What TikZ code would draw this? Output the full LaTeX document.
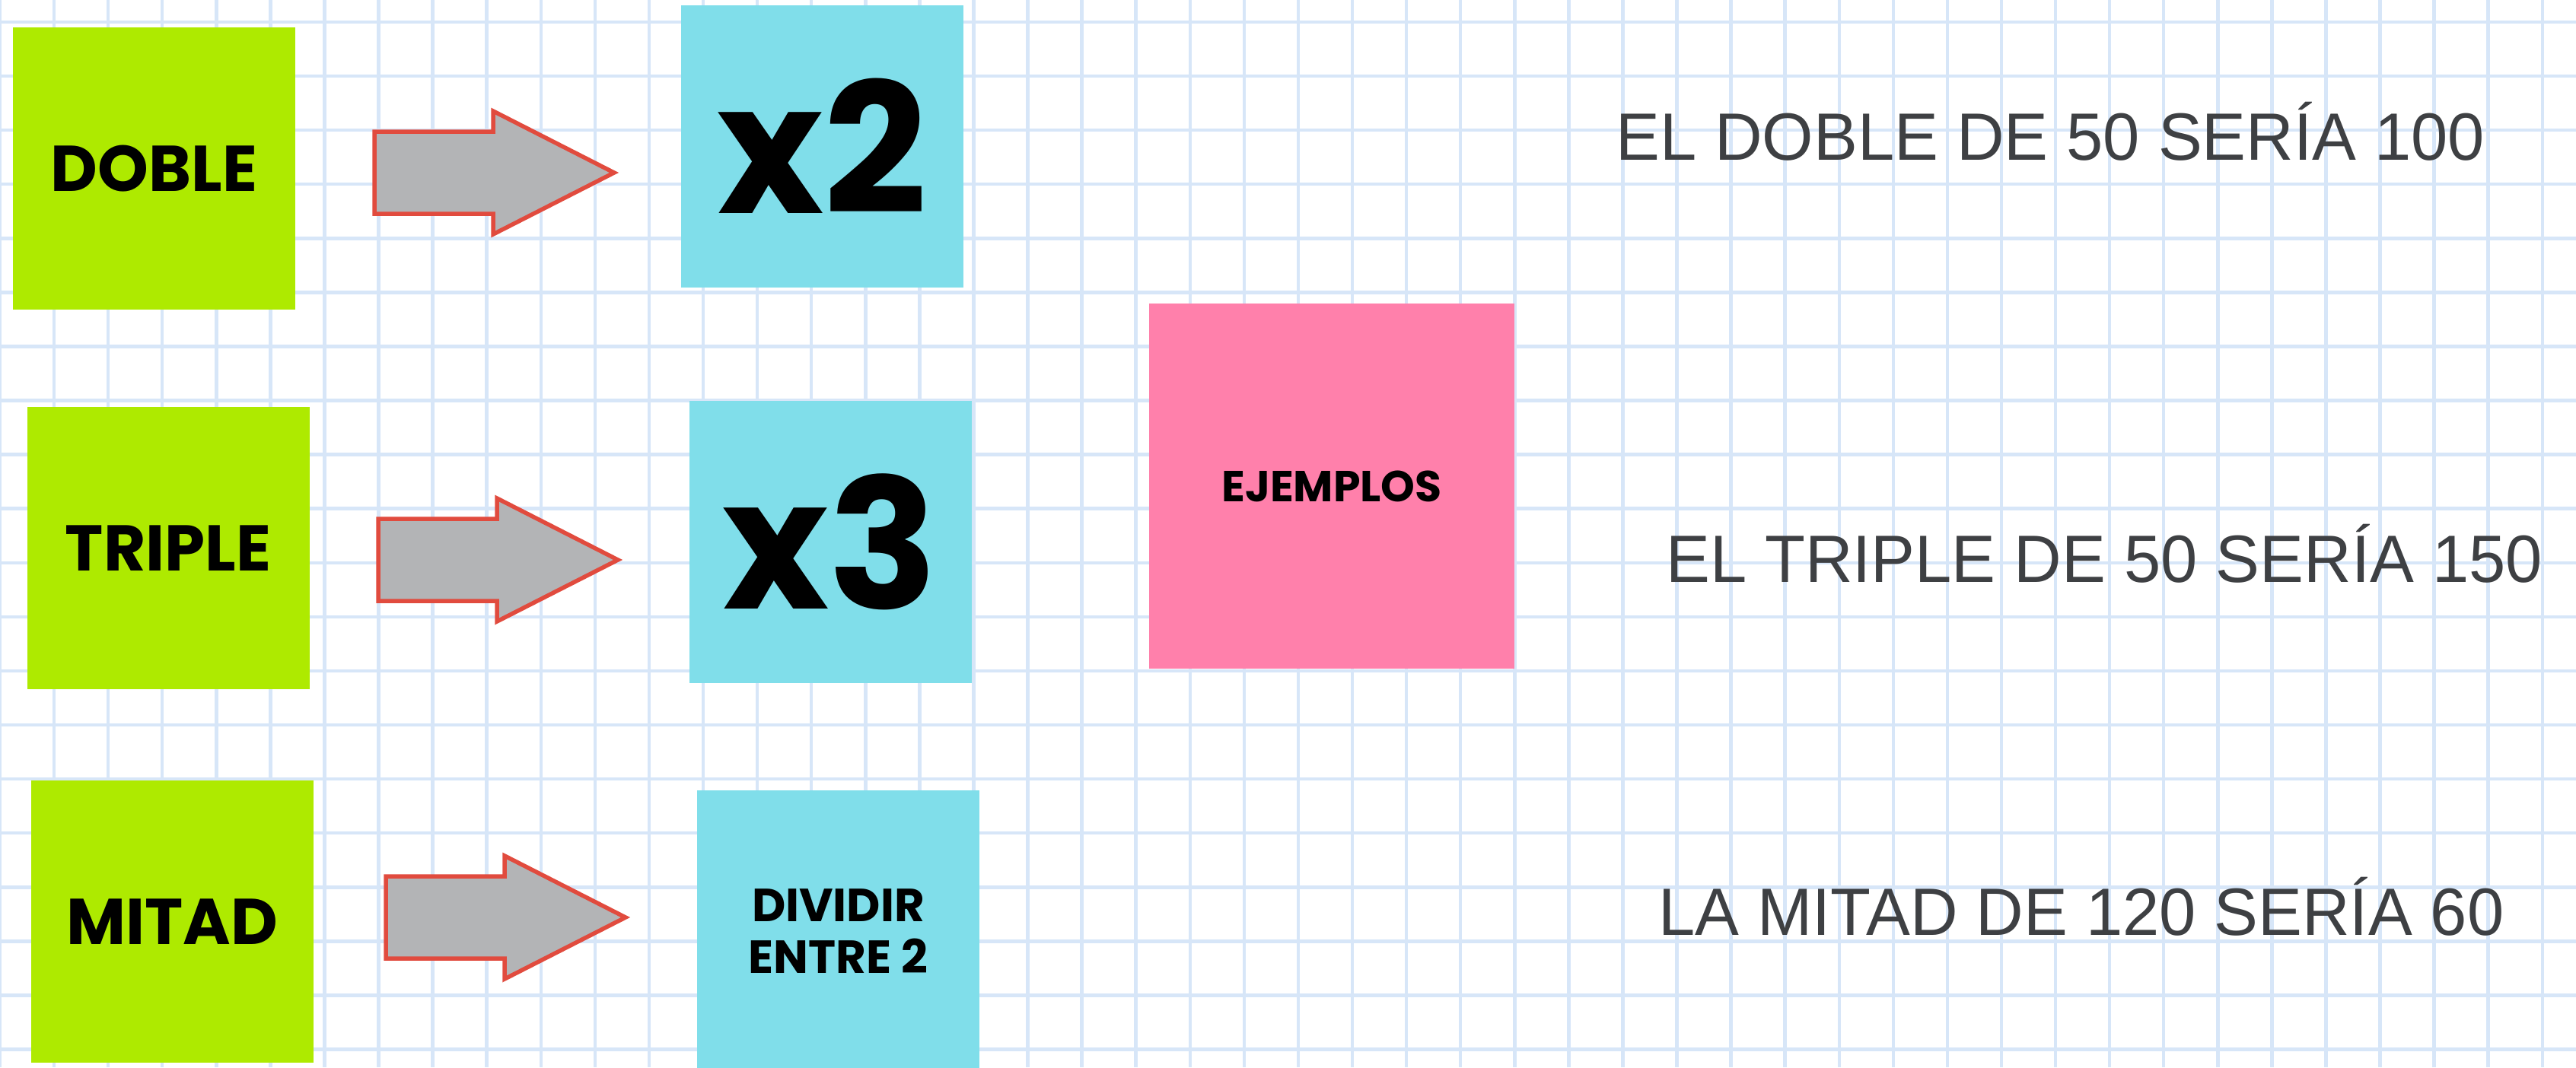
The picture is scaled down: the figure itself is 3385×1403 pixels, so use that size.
\documentclass[tikz,border=0pt]{standalone}
\usepackage{fontspec}
\setmainfont{Liberation Sans}
\newfontfamily\lblfont{Poppins}
\definecolor{gridc}{RGB}{215,230,248}
\definecolor{limec}{RGB}{174,234,0}
\definecolor{cyanc}{RGB}{128,222,234}
\definecolor{pinkc}{RGB}{255,128,171}
\definecolor{arrfill}{RGB}{179,180,182}
\definecolor{arrline}{RGB}{225,75,62}
\definecolor{txtgray}{RGB}{62,64,67}
\newcommand{\narrowtext}[1]{\scalebox{0.985}[1]{#1}}
\begin{document}
\begin{tikzpicture}[x=1pt,y=-1pt,
  gridline/.style={draw=gridc,line width=4.5pt},
  card/.style={rectangle,inner sep=0pt,minimum width=371pt,minimum height=371pt,align=center,text=black},
  termbox/.style={card,fill=limec,font=\lblfont\bfseries\fontsize{85}{94}\selectfont},
  opbox/.style={card,fill=cyanc,font=\lblfont\bfseries\fontsize{238}{260}\selectfont},
  opsmall/.style={card,fill=cyanc,font=\lblfont\bfseries\fontsize{61}{68}\selectfont},
  exbox/.style={card,fill=pinkc,minimum width=480pt,minimum height=480pt,font=\lblfont\bfseries\fontsize{57}{64}\selectfont},
  extext/.style={inner sep=0pt,anchor=base west,text=txtgray,font=\fontsize{88}{100}\selectfont},
  blockarr/.style={fill=arrfill,draw=arrline,line width=5.5pt,line join=miter}
]
\useasboundingbox (0,0) rectangle (3385,1403);
\clip (0,0) rectangle (3385,1403);
\fill[white] (0,0) rectangle (3385,1403);
% grid
\foreach \i in {0,...,47} \draw[gridline] (\i*71.08,0) -- (\i*71.08,1403);
\foreach \k in {0,...,19} \draw[gridline] (0,29+\k*71.08) -- (3385,29+\k*71.08);
% term boxes
\node[termbox] (doble) at (202.5,221.5) {DOBLE};
\node[termbox] (triple) at (221,720.5) {TRIPLE};
\node[termbox] (mitad) at (226.5,1211.5) {MITAD};
% operation boxes
\node[opbox] (x2) at (1080,192) {x2};
\node[opbox] (x3) at (1091,712) {x3};
\node[opsmall] (div) at (1101.5,1224) {DIVIDIR\\ENTRE 2};
% examples box
\node[exbox] (ej) at (1750,639) {EJEMPLOS};
% block arrows
\coordinate (a1) at (492,227);
\coordinate (a2) at (497,736);
\coordinate (a3) at (507,1206);
\foreach \a in {a1,a2,a3}
  \draw[blockarr] (\a) ++(0,-54) -- ++(156,0) -- ++(0,-27) -- ++(159,81) -- ++(-159,81) -- ++(0,-27) -- ++(-156,0) -- cycle;
% example texts
\node[extext] (t1) at (2123,210) {\narrowtext{EL DOBLE DE 50 SERÍA 100}};
\node[extext] (t2) at (2189,765) {\narrowtext{EL TRIPLE DE 50 SERÍA 150}};
\node[extext] (t3) at (2179,1229) {\narrowtext{LA MITAD DE 120 SERÍA 60}};
\end{tikzpicture}
\end{document}
